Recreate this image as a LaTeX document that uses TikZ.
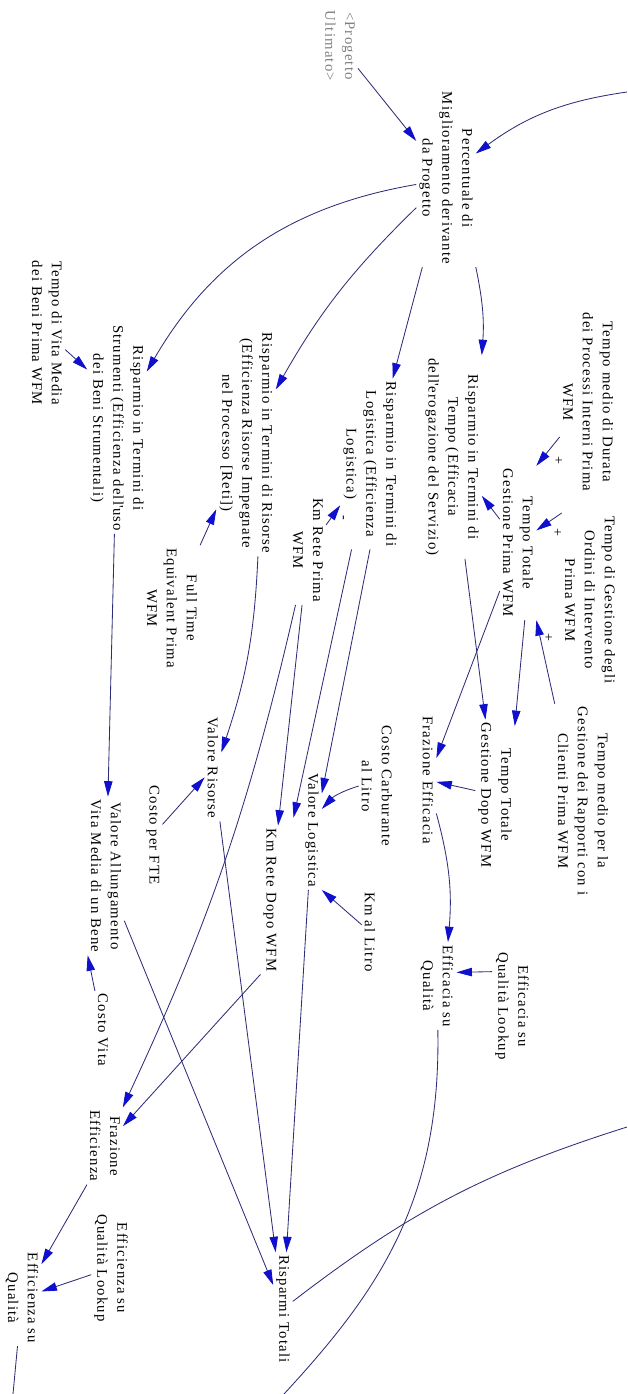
\documentclass[tikz,border=0pt]{standalone}
\usepackage{fontspec}
\setmainfont{Liberation Serif}[LetterSpace=8]
\usetikzlibrary{arrows.meta}
\definecolor{linkcol}{RGB}{45,45,120}
\definecolor{tipcol}{RGB}{15,15,205}

\begin{document}
\begin{tikzpicture}[x=0.025cm, y=-0.025cm,
    varnode/.style={rotate=-90, align=center, inner sep=2pt, font=\fontsize{10.5}{14.2}\selectfont},
    shadownode/.style={varnode, text=gray},
    polsign/.style={rotate=-90, inner sep=0pt, font=\fontsize{10}{12}\selectfont},
    arrowlink/.style={draw=linkcol, line width=0.6pt, -{Triangle[length=11pt, width=6pt, color=tipcol]}},
    offlink/.style={draw=linkcol, line width=0.6pt}]
  \useasboundingbox (0,0) rectangle (627,1394);

  \node[shadownode] (PU) at (340,46) {<Progetto\\Ultimato>};
  \node[varnode] (PMP) at (446,178) {Percentuale di\\Miglioramento derivante\\da Progetto};

  \node[varnode] (TMD) at (588,402) {Tempo medio di Durata\\dei Processi Interni Prima\\WFM};
  \node[varnode] (TGO) at (590,600) {Tempo di Gestione degli\\Ordini di Intervento\\Prima WFM};
  \node[varnode] (TMC) at (583,801) {Tempo medio per la\\Gestione dei Rapporti con i\\Clienti Prima WFM};
  \node[varnode] (TTGP) at (518,543) {Tempo Totale\\Gestione Prima WFM};
  \node[varnode] (TTGD) at (495,795) {Tempo Totale\\Gestione Dopo WFM};
  \node[varnode] (RTempo) at (452,457) {Risparmio in Termini di\\Tempo (Efficacia\\dell\textquotesingle erogazione del Servizio)};
  \node[varnode] (FEa) at (428,780) {Frazione Efficacia};
  \node[varnode] (ESQLa) at (512,1006) {Efficacia su\\Qualità Lookup};
  \node[varnode] (ESQa) at (437,986) {Efficacia su\\Qualità};

  \node[varnode] (RLog) at (370,464) {Risparmio in Termini di\\Logistica (Efficienza\\Logistica)};
  \node[varnode] (KRP) at (308,550) {Km Rete Prima\\WFM};
  \node[varnode] (CCL) at (377,786) {Costo Carburante\\al Litro};
  \node[varnode] (VL) at (312,830) {Valore Logistica};
  \node[varnode] (KmL) at (370,932) {Km al Litro};
  \node[varnode] (KRD) at (270,900) {Km Rete Dopo WFM};

  \node[varnode] (RRis) at (246,443) {Risparmio in Termini di Risorse\\(Efficienza Risorse Impegnate\\nel Processo [Reti])};
  \node[varnode] (FTE) at (172,608) {Full Time\\Equivalent Prima\\WFM};
  \node[varnode] (VR) at (213,768) {Valore Risorse};
  \node[varnode] (CFTE) at (153,835) {Costo per FTE};

  \node[varnode] (RTS) at (117,428) {Risparmio in Termini di\\Strumenti (Efficienza dell\textquotesingle uso\\dei Beni Strumentali)};
  \node[varnode] (TVM) at (47,333) {Tempo di Vita Media\\dei Beni Prima WFM};
  \node[varnode] (VAV) at (106,876) {Valore Allungamento\\Vita Media di un Bene};
  \node[varnode] (CV) at (103,1030) {Costo Vita};
  \node[varnode] (FE) at (105,1146) {Frazione\\Efficienza};
  \node[varnode] (ESQL) at (111,1268) {Efficienza su\\Qualità Lookup};
  \node[varnode] (ESQ) at (22,1298) {Efficienza su\\Qualità};
  \node[varnode] (RT) at (283,1309) {Risparmi Totali};

  \node[polsign] (s1) at (558,460) {+};
  \node[polsign] (s2) at (557,532) {+};
  \node[polsign] (s3) at (548,637) {+};
  \node[polsign] (s4) at (342,518) {-};

  \coordinate (inPMP) at (627,92);
  \coordinate (outRT) at (627,1127);
  \coordinate (outESQa) at (284,1394);
  \coordinate (outESQ) at (13,1394);

  \draw[arrowlink] (PU) -- (PMP);
  \draw[arrowlink] (inPMP) to[bend right=14] (PMP);
  \draw[arrowlink] (PMP) to[bend right=25] (RTS);
  \draw[arrowlink] (PMP) to[bend right=8] (RRis);
  \draw[arrowlink] (PMP) -- (RLog);
  \draw[arrowlink] (PMP.north east) to[bend left=8] (RTempo.north west);

  \draw[arrowlink] (TMD) -- (TTGP.north west);
  \draw[arrowlink] (TGO.south west) -- (TTGP);
  \draw[arrowlink] (TMC.south west) -- (TTGP.north east);
  \draw[arrowlink] (TTGP) -- (RTempo);
  \draw[arrowlink] (TTGP.5) -- (TTGD.164);
  \draw[arrowlink] (RTempo) -- (TTGD);
  \draw[arrowlink] (TTGP) -- (FEa);
  \draw[arrowlink] (TTGD) -- (FEa);
  \draw[arrowlink] (FEa.14) to[bend left=10] (ESQa.166);
  \draw[arrowlink] (ESQLa.210) -- (ESQa.125);
  \draw[offlink] (ESQa) .. controls (441,1200) and (380,1290) .. (outESQa);

  \draw[arrowlink] (KRP) -- (RLog);
  \draw[arrowlink] (RLog.east) -- (VL.165);
  \draw[arrowlink] (RLog) -- ([xshift=0.35cm,yshift=0.2cm]KRD.north west);
  \draw[arrowlink] (KRP) -- (KRD);
  \draw[arrowlink] (KRP) to[bend left=6] (FE);
  \draw[arrowlink] (CCL.south) to[bend right=15] (VL.155);
  \draw[arrowlink] (KmL) -- (VL.north east);
  \draw[arrowlink] (VL) -- (RT);

  \draw[arrowlink] (FTE) -- (RRis);
  \draw[arrowlink] (RRis.6) to[bend left=8] (VR.152);
  \draw[arrowlink] (CFTE) -- (VR);
  \draw[arrowlink] (VR) -- (RT);

  \draw[arrowlink] (TVM) -- (RTS.207);
  \draw[arrowlink] (RTS) -- (VAV);
  \draw[arrowlink] (CV.south west) -- (VAV.south east);
  \draw[arrowlink] (VAV) -- (RT);
  \draw[arrowlink] (KRD.south east) -- (FE);
  \draw[arrowlink] (FE.south east) -- (ESQ);
  \draw[arrowlink] (ESQL) -- (ESQ);
  \draw[offlink] (ESQ) -- (outESQ);
  \draw[offlink] (RT) to[bend left=10] (outRT);
\end{tikzpicture}
\end{document}
